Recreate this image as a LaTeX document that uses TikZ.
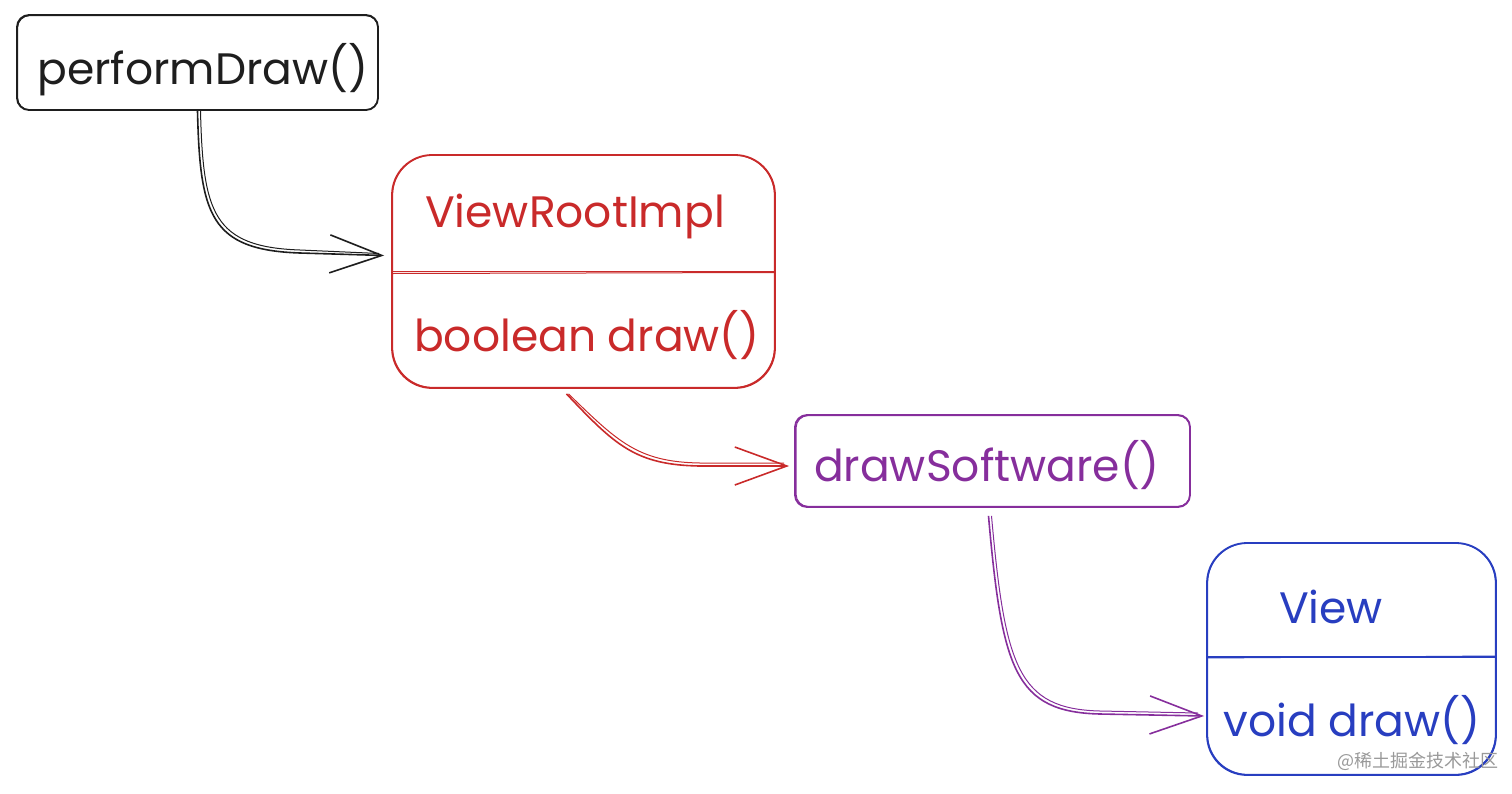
\documentclass[tikz,border=0pt]{standalone}
\usepackage{fontspec}
\setmainfont{Poppins}
\newfontfamily\cjk{Noto Sans CJK SC}
\usetikzlibrary{arrows.meta}
\definecolor{inkK}{RGB}{30,30,30}
\definecolor{inkR}{RGB}{201,42,42}
\definecolor{inkP}{RGB}{134,46,156}
\definecolor{inkB}{RGB}{40,62,192}
\tikzset{
  box/.style={draw, line width=1.8pt, rounded corners=#1, inner sep=0pt},
  box2/.style={line width=1pt, rounded corners=#1},
  lbl/.style={font=\fontsize{44}{50}\selectfont, inner sep=0pt},
  conn/.style={line width=1.6pt, -{Straight Barb[length=52pt,width=38pt]}},
  conn2/.style={line width=1pt},
}
\begin{document}
\begin{tikzpicture}[x=1pt,y=-1pt]
\useasboundingbox (0,0) rectangle (1512,793);
% boxes
\node[box=12pt, inkK, minimum width=361pt, minimum height=95pt] (b1) at (197.5,62.5) {};
\node[box=40pt, inkR, minimum width=383pt, minimum height=233pt] (b2) at (583.5,271.5) {};
\node[box=12pt, inkP, minimum width=395pt, minimum height=92pt] (b3) at (992.5,461) {};
\node[box=40pt, inkB, minimum width=289pt, minimum height=232pt] (b4) at (1351.5,659) {};
% second sketch strokes
\draw[box2=12pt, inkK] ([shift={(1.5pt,-1.5pt)}]b1.north west) rectangle ([shift={(-1pt,1pt)}]b1.south east);
\draw[box2=40pt, inkR] ([shift={(1.5pt,-1pt)}]b2.north west) rectangle ([shift={(-1.5pt,1.5pt)}]b2.south east);
\draw[box2=12pt, inkP] ([shift={(2pt,-1.5pt)}]b3.north west) rectangle ([shift={(-1pt,1.5pt)}]b3.south east);
\draw[box2=40pt, inkB] ([shift={(1.5pt,-1pt)}]b4.north west) rectangle ([shift={(-1.5pt,1.5pt)}]b4.south east);
% dividers
\draw[inkR, line width=1.8pt] (b2.west) -- (b2.east);
\draw[inkR, line width=1pt] ([yshift=-2pt]b2.west) -- ([yshift=-1pt]b2.east);
\draw[inkB, line width=1.8pt] ([yshift=2pt]b4.west) -- ([yshift=2pt]b4.east);
\draw[inkB, line width=1pt] ([yshift=1pt]b4.west) -- ([yshift=3pt]b4.east);
% labels
\node[lbl, text=inkK] (t1) at (203,70) {performDraw()};
\node[lbl, text=inkR] (t2) at (575,216) {ViewRootImpl};
\node[lbl, text=inkR] (t3) at (587,335) {boolean draw()};
\node[lbl, text=inkP] (t4) at (987,465) {drawSoftware()};
\node[lbl, text=inkB] (t5) at (1331,607) {View};
\node[lbl, text=inkB] (t6) at (1352,720) {void draw()};
% connectors
\draw[conn, inkK] (b1.south) .. controls (200,215) and (210,250) .. (300,253) -- ([xshift=-7pt,yshift=16pt]b2.west);
\draw[conn2, inkK] ([xshift=3pt]b1.south) .. controls (203,213) and (213,247) .. (300,250) -- ([xshift=-12pt,yshift=18pt]b2.west);
\draw[conn, inkR] ([xshift=-17pt,yshift=-5pt]b2.south) .. controls (615,445) and (635,465) .. (700,466) -- ([xshift=-5pt,yshift=-5pt]b3.west);
\draw[conn2, inkR] ([xshift=-15pt,yshift=-5pt]b2.south) .. controls (618,442) and (638,462) .. (700,463) -- ([xshift=-10pt,yshift=-2pt]b3.west);
\draw[conn, inkP] ([xshift=-4pt,yshift=-8pt]b3.south) .. controls (1002,670) and (1015,712) .. (1100,714) -- ([xshift=-2pt,yshift=-57pt]b4.west);
\draw[conn2, inkP] ([xshift=-1pt,yshift=-8pt]b3.south) .. controls (1005,667) and (1018,709) .. (1100,711) -- ([xshift=-8pt,yshift=-54pt]b4.west);
% watermark
\node[inner sep=0pt, text=black!40, font=\cjk\fontsize{18}{20}\selectfont] (wm) at (1418,761) {@稀土掘金技术社区};
\end{tikzpicture}
\end{document}
